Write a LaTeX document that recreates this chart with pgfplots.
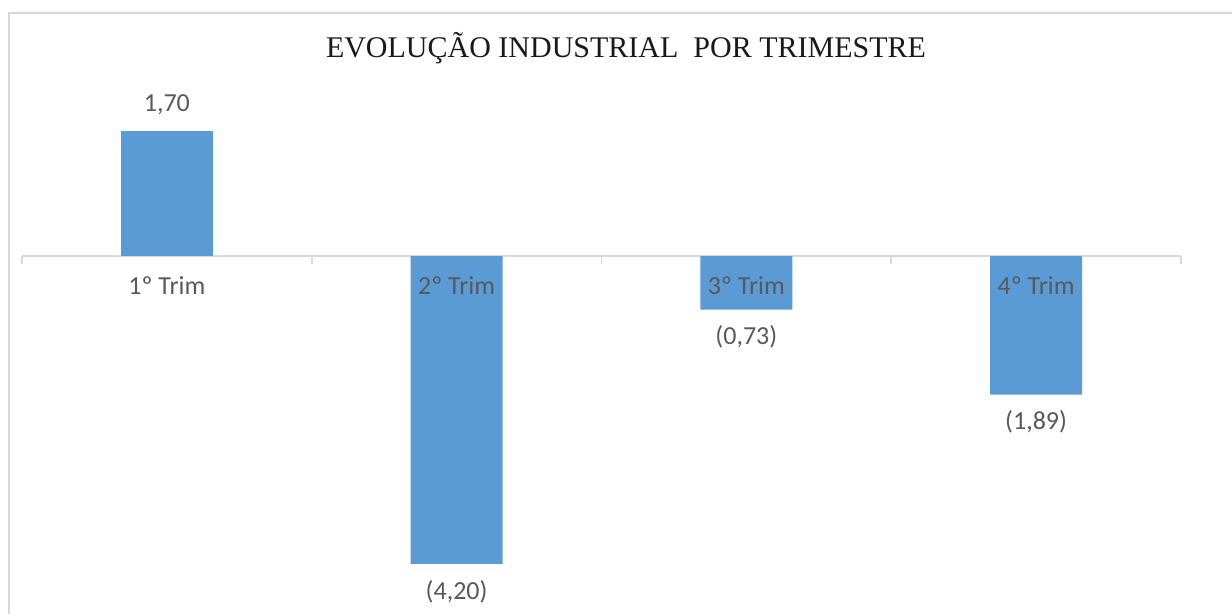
\documentclass[border=0pt]{standalone}
\usepackage{fontspec}
\setmainfont{Carlito}
\newfontfamily\titlefont{Liberation Serif}
\usepackage{pgfplots}
\pgfplotsset{compat=1.18}
\definecolor{barblue}{HTML}{5B9BD5}
\definecolor{framegray}{HTML}{D9D9D9}
\definecolor{labelgray}{HTML}{595959}

% positive and negative values kept apart so their labels sit on the right side
\pgfplotstableread{
x y label
0 1.70 1,70
}\posdata
\pgfplotstableread{
x y label
1 -4.20 (4,20)
2 -0.73 (0,73)
3 -1.89 (1,89)
}\negdata

\begin{document}
\begin{tikzpicture}[x=0.5pt,y=0.5pt]
\useasboundingbox (0,0) rectangle (1232,614);
\begin{scope}
  \clip (0,0) rectangle (1232,614);
  \draw[framegray, line width=1pt] (9,601) rectangle (1243,-20);
\end{scope}
\node[font=\titlefont\fontsize{15}{18}\selectfont, text=black!90] at (626,566)
  {EVOLUÇÃO INDUSTRIAL\ \ POR TRIMESTRE};
\begin{axis}[
  at={(11pt,3.1pt)}, anchor=south west,
  width=579.5pt, height=256.5pt, scale only axis,
  xmin=-0.5, xmax=3.5, ymin=-4.8, ymax=2.2,
  enlargelimits=false, clip=false,
  axis x line*=middle, axis y line=none,
  x axis line style={framegray, line width=1pt},
  xtick={-0.5,0.5,1.5,2.5,3.5}, xticklabels={},
  xtick align=outside, major tick length=4pt,
  x tick style={framegray, line width=0.8pt},
  ytick=\empty,
  ybar, bar width=46pt, bar shift=0pt,
  nodes near coords,
  point meta=explicit symbolic,
  nodes near coords style={font=\fontsize{13}{15}\selectfont, text=labelgray, inner ysep=8pt},
]
\addplot[fill=barblue, draw=none, nodes near coords style={anchor=south}]
  table[x=x, y=y, meta=label] {\posdata};
\addplot[fill=barblue, draw=none, nodes near coords style={anchor=north}]
  table[x=x, y=y, meta=label] {\negdata};
\foreach \i/\t in {0/1º Trim,1/2º Trim,2/3º Trim,3/4º Trim}{
  \edef\tmp{\noexpand\node[font=\noexpand\fontsize{13}{15}\noexpand\selectfont, text=labelgray] at (axis cs:\i,0) [yshift=-15pt] {\t};}
  \tmp
}
\end{axis}
\end{tikzpicture}
\end{document}
